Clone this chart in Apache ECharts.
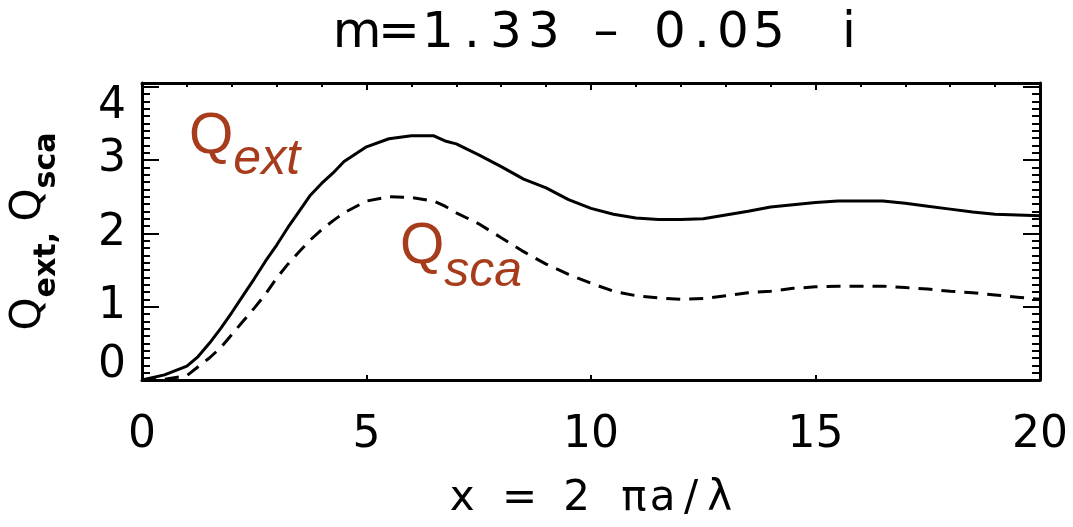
<!DOCTYPE html>
<html>
<head>
<meta charset="utf-8">
<script src="https://cdn.jsdelivr.net/npm/echarts@6/dist/echarts.min.js"></script>
<style>html,body{margin:0;padding:0;background:#fff}#c{width:1073px;height:527px}</style>
</head>
<body>
<div id="c"></div>
<script>
// ---- data ----
const xValues = [0, 0.5, 1.0, 1.25, 1.5, 1.75, 2.0, 2.25, 2.5, 2.75, 3.0, 3.25, 3.5, 3.75, 4.0, 4.25, 4.5, 5.0, 5.5, 6.0, 6.5, 6.75, 7.0, 7.5, 8.0, 8.5, 9.0, 9.5, 10.0, 10.5, 11.0, 11.5, 12.0, 12.5, 13.0, 13.5, 14.0, 14.5, 15.0, 15.5, 16.0, 16.5, 17.0, 17.5, 18.0, 18.5, 19.0, 19.5, 20.0];
const qExt = [0, 0.07, 0.19, 0.32, 0.50, 0.70, 0.92, 1.15, 1.38, 1.62, 1.84, 2.08, 2.30, 2.52, 2.68, 2.82, 2.98, 3.18, 3.29, 3.33, 3.33, 3.26, 3.22, 3.07, 2.91, 2.74, 2.62, 2.46, 2.34, 2.26, 2.21, 2.19, 2.19, 2.20, 2.25, 2.30, 2.36, 2.39, 2.42, 2.44, 2.44, 2.44, 2.41, 2.37, 2.33, 2.29, 2.26, 2.25, 2.24];
const qSca = [0, 0.01, 0.06, 0.18, 0.30, 0.44, 0.62, 0.80, 0.98, 1.17, 1.39, 1.58, 1.75, 1.91, 2.05, 2.17, 2.28, 2.44, 2.50, 2.49, 2.44, 2.37, 2.28, 2.13, 1.94, 1.75, 1.58, 1.44, 1.32, 1.21, 1.15, 1.12, 1.10, 1.11, 1.15, 1.19, 1.21, 1.25, 1.27, 1.28, 1.28, 1.28, 1.26, 1.24, 1.21, 1.19, 1.16, 1.13, 1.10];
const xTicks = [0, 5, 10, 15, 20];
const yTicks = [0, 1, 2, 3, 4];
const titleText = 'm=1.33 \u2013 0.05 i';
const xName = 'x = 2 \u03c0a/\u03bb';

// ---- chart ----
const chart = echarts.init(document.getElementById('c'), null, {renderer: 'canvas'});
const pair = (ys) => xValues.map((x, i) => [x, ys[i]]);
const FONT = 'DejaVu Sans';

// character cells (IDL-like spacing); widths are layout only
const titleCellW = [44, 40, 38, 30, 38, 38, 22, 42, 24, 38, 26, 36, 36, 44, 36];
function cellText(s, widths) {
  return Array.from(s).map((ch, i) => '{w' + i + '|' + (ch === ' ' ? '\u00a0' : ch) + '}').join('');
}
function cellRich(s, widths, size) {
  const r = {};
  Array.from(s).forEach((ch, i) => {
    r['w' + i] = {fontFamily: FONT, fontSize: size, color: '#000', width: widths[i], align: 'center'};
  });
  return r;
}
const xNameCellW = Array.from(xName).map(() => 28.6);

const axisLine = {show: true, onZero: false, lineStyle: {color: '#000', width: 3}};
const tickStyle = {color: '#000', width: 2};

chart.setOption({
  animation: false,
  backgroundColor: '#fff',
  title: {
    text: cellText(titleText, titleCellW),
    left: 330, top: 4,
    textStyle: {
      fontFamily: FONT, fontSize: 50, fontWeight: 'normal', color: '#000',
      rich: cellRich(titleText, titleCellW, 50)
    }
  },
  grid: {left: 140, right: 33, top: 83, bottom: 147, containLabel: false},
  xAxis: [{
    type: 'value', position: 'bottom', min: 0, max: 20, interval: 5,
    axisLine: axisLine,
    axisTick: {show: true, inside: true, length: 5, lineStyle: tickStyle},
    minorTick: {show: false},
    splitLine: {show: false},
    axisLabel: {
      margin: 34, fontFamily: FONT, fontSize: 44, color: '#000',
      formatter: (v) => xTicks.includes(v) ? String(v) : ''
    },
    name: cellText(xName, xNameCellW), nameLocation: 'middle', nameGap: 98,
    nameTextStyle: {
      fontFamily: FONT, fontSize: 42, color: '#000',
      rich: cellRich(xName, xNameCellW, 42)
    }
  }, {
    type: 'value', position: 'top', min: 0, max: 20, interval: 5,
    axisLine: axisLine,
    axisTick: {show: true, inside: true, length: 7, lineStyle: tickStyle},
    minorTick: {show: true, splitNumber: 5, length: 4, lineStyle: tickStyle},
    splitLine: {show: false}, axisLabel: {show: false}
  }],
  yAxis: [{
    type: 'value', position: 'left', min: 0, max: 4.05, interval: 1,
    axisLine: axisLine,
    axisTick: {show: true, inside: true, length: 17, lineStyle: tickStyle},
    minorTick: {show: true, splitNumber: 10, length: 8, lineStyle: tickStyle},
    splitLine: {show: false},
    axisLabel: {
      margin: 16, fontFamily: FONT, fontSize: 44, color: '#000',
      formatter: (v) => {
        if (!yTicks.includes(v)) return '';
        if (v === yTicks[0]) return '{lo|' + v + '}';
        if (v === yTicks[yTicks.length - 1]) return '{hi|' + v + '}';
        return String(v);
      },
      rich: {
        lo: {fontFamily: FONT, fontSize: 44, color: '#000', padding: [0, 0, 28, 0]},
        hi: {fontFamily: FONT, fontSize: 44, color: '#000', padding: [40, 0, 0, 0]}
      }
    },
    name: '{q|Q}{s|ext, }{q|Q}{s|sca}', nameLocation: 'middle', nameRotate: 90, nameGap: 80,
    nameTextStyle: {
      fontFamily: FONT, color: '#000',
      rich: {
        q: {fontFamily: FONT, fontSize: 42, color: '#000', padding: [0, 0, 12, 0]},
        s: {fontFamily: FONT, fontSize: 30, color: '#000', fontWeight: 'bold', verticalAlign: 'bottom'}
      }
    }
  }, {
    type: 'value', position: 'right', min: 0, max: 4.05, interval: 1,
    axisLine: axisLine,
    axisTick: {show: true, inside: true, length: 17, lineStyle: tickStyle},
    minorTick: {show: true, splitNumber: 10, length: 8, lineStyle: tickStyle},
    splitLine: {show: false}, axisLabel: {show: false}
  }],
  series: [{
    name: 'Qext', type: 'line', data: pair(qExt), showSymbol: false, smooth: false,
    lineStyle: {color: '#000', width: 3}
  }, {
    name: 'Qsca', type: 'line', data: pair(qSca), showSymbol: false, smooth: false,
    lineStyle: {color: '#000', width: 3, type: [14, 9]}
  }],
  graphic: [{
    type: 'text', left: 189, top: 109,
    style: {
      text: '{q|Q}{s|ext}',
      rich: {
        q: {fontFamily: 'Liberation Sans', fontSize: 57, fill: '#A63C1C', padding: [0, 0, 19, 0]},
        s: {fontFamily: 'Liberation Sans', fontStyle: 'italic', fontSize: 50, fill: '#A63C1C', verticalAlign: 'bottom'}
      }
    }
  }, {
    type: 'text', left: 400, top: 219,
    style: {
      text: '{q|Q}{s|sca}',
      rich: {
        q: {fontFamily: 'Liberation Sans', fontSize: 57, fill: '#A63C1C', padding: [0, 0, 21, 0]},
        s: {fontFamily: 'Liberation Sans', fontStyle: 'italic', fontSize: 50, fill: '#A63C1C', verticalAlign: 'bottom'}
      }
    }
  }]
});
</script>
</body>
</html>
